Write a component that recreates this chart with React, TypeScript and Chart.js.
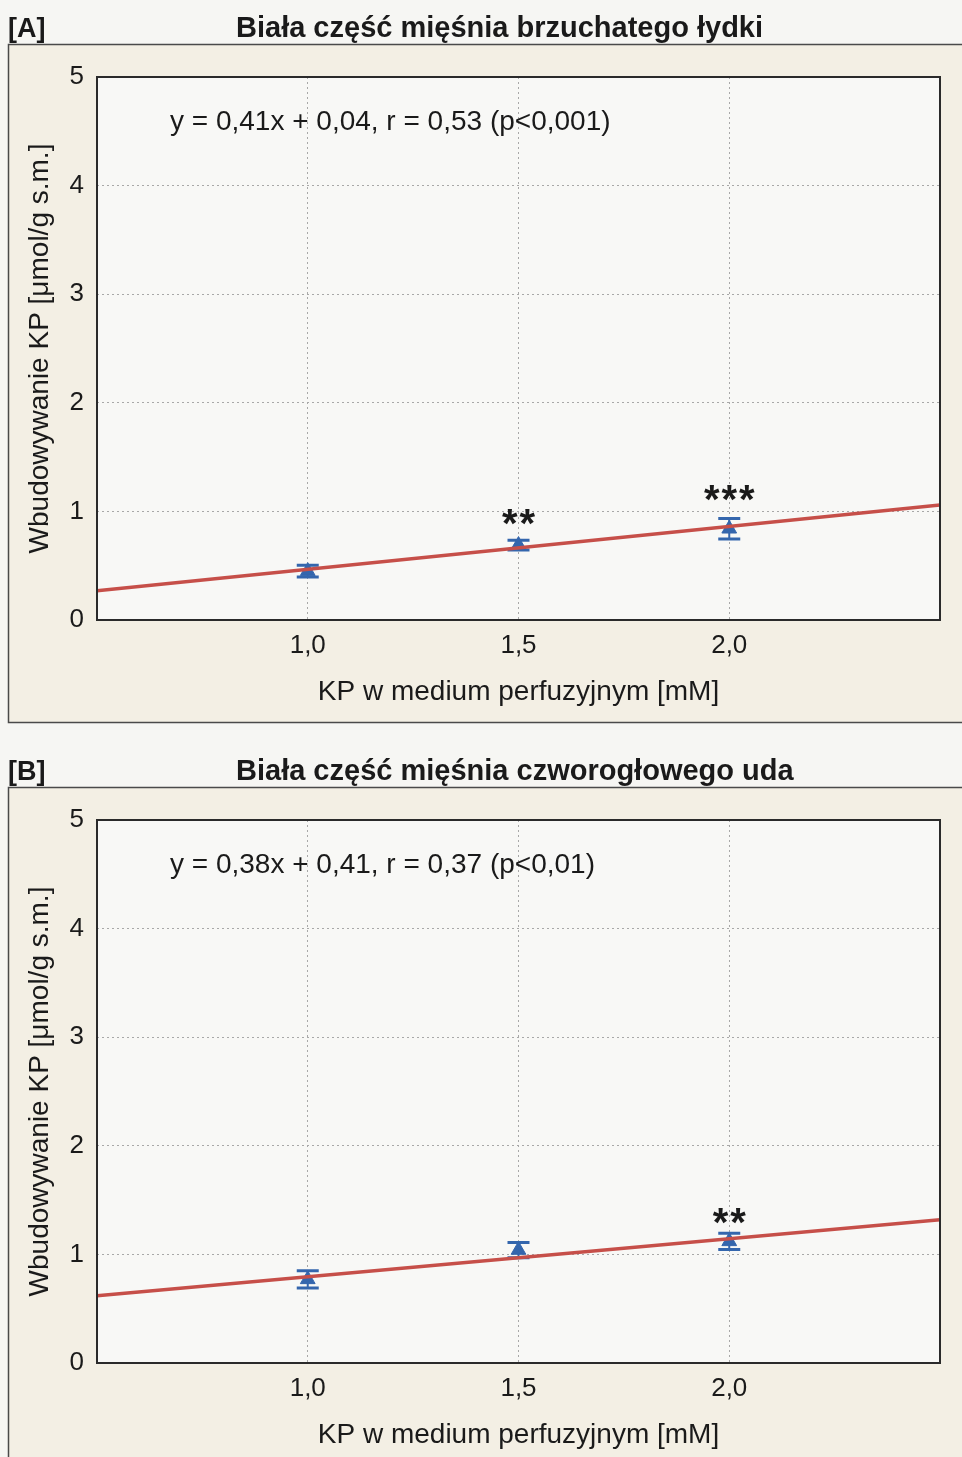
import React, { useEffect, useRef } from "react";
import { Chart, registerables } from "chart.js";

Chart.register(...registerables);

// ---------- data ----------
const xTickValues = [1.0, 1.5, 2.0];
const yTickValues = [0, 1, 2, 3, 4, 5];

const panelLabelA = "[A]";
const titleA = "Biała część mięśnia brzuchatego łydki";
const equationA = "y = 0,41x + 0,04, r = 0,53 (p<0,001)";
const concA = [1.0, 1.5, 2.0];
const meanA = [0.45, 0.69, 0.84];
const errA = [0.055, 0.045, 0.095];
const starsA = ["", "**", "***"];
const starYA = [0, 0.95, 1.17];
const fitXA = [0.5, 2.5];
const fitYA = [0.27, 1.06];

const panelLabelB = "[B]";
const titleB = "Biała część mięśnia czworogłowego uda";
const equationB = "y = 0,38x + 0,41, r = 0,37 (p<0,01)";
const concB = [1.0, 1.5, 2.0];
const meanB = [0.77, 1.04, 1.12];
const errB = [0.08, 0.07, 0.075];
const starsB = ["", "", "**"];
const starYB = [0, 0, 1.35];
const fitXB = [0.5, 2.5];
const fitYB = [0.62, 1.32];

const xAxisTitle = "KP w medium perfuzyjnym [mM]";
const yAxisTitle = "Wbudowywanie KP [μmol/g s.m.]";

// ---------- styles ----------
const FONT = "'Liberation Sans', Arial, Helvetica, sans-serif";
const TEXT = "#1a1a1a";
const BLUE = "#3466ad";
const RED = "#c64f49";
const PAGE_BG = "#f6f6f3";
const PANEL_BG = "#f3efe4";
const PLOT_BG = "#f8f8f6";
const CANVAS_W = 962;
const CANVAS_H = 728;

type Panel = {
  label: string;
  title: string;
  equation: string;
  conc: number[];
  mean: number[];
  err: number[];
  stars: string[];
  starY: number[];
  fitX: number[];
  fitY: number[];
};

const panels: Panel[] = [
  { label: panelLabelA, title: titleA, equation: equationA, conc: concA, mean: meanA, err: errA, stars: starsA, starY: starYA, fitX: fitXA, fitY: fitYA },
  { label: panelLabelB, title: titleB, equation: equationB, conc: concB, mean: meanB, err: errB, stars: starsB, starY: starYB, fitX: fitXB, fitY: fitYB },
];

const fmtComma = (v: number) => v.toFixed(1).replace(".", ",");

function makeChart(canvas: HTMLCanvasElement, p: Panel) {
  const decor = {
    id: "decor",
    beforeDraw(chart: any) {
      const ctx = chart.ctx;
      const ca = chart.chartArea;
      ctx.save();
      ctx.fillStyle = PAGE_BG;
      ctx.fillRect(0, 0, chart.width, chart.height);
      // panel
      ctx.fillStyle = PANEL_BG;
      ctx.fillRect(8, 44, chart.width + 10, 678);
      ctx.strokeStyle = "#4a4a4a";
      ctx.lineWidth = 1.5;
      ctx.strokeRect(8.5, 44.5, chart.width + 10, 678);
      // plot bg
      ctx.fillStyle = PLOT_BG;
      ctx.fillRect(ca.left, ca.top, ca.right - ca.left, ca.bottom - ca.top);
      // titles
      ctx.fillStyle = TEXT;
      ctx.textBaseline = "alphabetic";
      ctx.textAlign = "left";
      ctx.font = `bold 27px ${FONT}`;
      ctx.fillText(p.label, 8, 37);
      ctx.font = `bold 29px ${FONT}`;
      ctx.fillText(p.title, 236, 37);
      ctx.restore();
    },
    beforeDatasetsDraw(chart: any) {
      const ctx = chart.ctx;
      const xs = chart.scales.x;
      const ys = chart.scales.y;
      ctx.save();
      ctx.strokeStyle = BLUE;
      for (let i = 0; i < p.conc.length; i++) {
        const x = xs.getPixelForValue(p.conc[i]);
        const yTop = ys.getPixelForValue(p.mean[i] + p.err[i]);
        const yBot = ys.getPixelForValue(p.mean[i] - p.err[i]);
        ctx.lineWidth = 2;
        ctx.beginPath();
        ctx.moveTo(x, yTop);
        ctx.lineTo(x, yBot);
        ctx.stroke();
        ctx.lineWidth = 3;
        ctx.beginPath();
        ctx.moveTo(x - 11, yTop);
        ctx.lineTo(x + 11, yTop);
        ctx.moveTo(x - 11, yBot);
        ctx.lineTo(x + 11, yBot);
        ctx.stroke();
      }
      ctx.restore();
    },
    afterDatasetsDraw(chart: any) {
      const ctx = chart.ctx;
      const ca = chart.chartArea;
      const xs = chart.scales.x;
      const ys = chart.scales.y;
      ctx.save();
      // stars
      ctx.fillStyle = TEXT;
      ctx.textAlign = "center";
      ctx.textBaseline = "middle";
      ctx.font = `bold 40px ${FONT}`;
      for (let i = 0; i < p.stars.length; i++) {
        if (!p.stars[i]) continue;
        const x = xs.getPixelForValue(p.conc[i]);
        const y = ys.getPixelForValue(p.starY[i]);
        const chars = p.stars[i].split("");
        const step = 17.5;
        const start = x - ((chars.length - 1) * step) / 2;
        chars.forEach((c, k) => ctx.fillText(c, start + k * step, y + 9));
      }
      // equation
      ctx.textAlign = "left";
      ctx.textBaseline = "middle";
      ctx.font = `28px ${FONT}`;
      ctx.fillText(p.equation, ca.left + 73, ca.top + 45);
      // plot border
      ctx.strokeStyle = "#2a2a2a";
      ctx.lineWidth = 2;
      ctx.strokeRect(ca.left, ca.top, ca.right - ca.left, ca.bottom - ca.top);
      ctx.restore();
    },
  };

  return new Chart(canvas, {
    type: "scatter",
    data: {
      datasets: [
        {
          type: "line",
          data: p.fitX.map((x, i) => ({ x, y: p.fitY[i] })),
          borderColor: RED,
          borderWidth: 3.5,
          pointRadius: 0,
          fill: false,
          order: 0,
        } as any,
        {
          type: "scatter",
          data: p.conc.map((x, i) => ({ x, y: p.mean[i] })),
          pointStyle: "triangle",
          pointRadius: 8.5,
          backgroundColor: BLUE,
          borderColor: BLUE,
          borderWidth: 1,
          order: 1,
        },
      ],
    },
    options: {
      responsive: false,
      animation: false,
      devicePixelRatio: 1,
      layout: { padding: { top: 77, right: 22, left: 0, bottom: 0 } },
      plugins: {
        legend: { display: false },
        tooltip: { enabled: false },
        title: { display: false },
      },
      scales: {
        x: {
          type: "linear",
          min: 0.5,
          max: 2.5,
          afterBuildTicks: (s: any) => {
            s.ticks = xTickValues.map((v) => ({ value: v }));
          },
          afterFit: (s: any) => {
            s.height = CANVAS_H - 620;
          },
          grid: { color: "#a8a8a8", lineWidth: 1, drawTicks: false },
          border: { display: false, dash: [2, 3] },
          ticks: {
            padding: 10,
            color: TEXT,
            font: { family: FONT, size: 26 },
            callback: (v: any) => fmtComma(Number(v)),
            autoSkip: false,
            maxRotation: 0,
          },
          title: {
            display: true,
            text: xAxisTitle,
            color: TEXT,
            font: { family: FONT, size: 28 },
            padding: { top: 0, bottom: 19 },
          },
        },
        y: {
          type: "linear",
          min: 0,
          max: 5,
          afterBuildTicks: (s: any) => {
            s.ticks = yTickValues.map((v) => ({ value: v }));
          },
          afterFit: (s: any) => {
            s.width = 97;
          },
          grid: { color: "#a8a8a8", lineWidth: 1, drawTicks: false },
          border: { display: false, dash: [2, 3] },
          ticks: {
            padding: 13,
            color: TEXT,
            font: { family: FONT, size: 26 },
            callback: (v: any) => String(v),
          },
          title: {
            display: true,
            text: yAxisTitle,
            color: TEXT,
            font: { family: FONT, size: 28 },
            padding: { top: 23, bottom: 0 },
          },
        },
      },
    },
    plugins: [decor],
  } as any);
}

function PanelChart({ panel, top }: { panel: Panel; top: number }) {
  const ref = useRef<HTMLCanvasElement | null>(null);
  useEffect(() => {
    if (!ref.current) return;
    const chart = makeChart(ref.current, panel);
    return () => chart.destroy();
  }, [panel]);
  return (
    <canvas
      ref={ref}
      width={CANVAS_W}
      height={CANVAS_H}
      style={{ position: "absolute", left: 0, top, width: CANVAS_W, height: CANVAS_H, display: "block" }}
    />
  );
}

export default function App() {
  return (
    <div
      style={{
        position: "fixed",
        left: 0,
        top: 0,
        width: 962,
        height: 1457,
        overflow: "hidden",
        background: PAGE_BG,
      }}
    >
      <PanelChart panel={panels[0]} top={0} />
      <PanelChart panel={panels[1]} top={743} />
    </div>
  );
}
